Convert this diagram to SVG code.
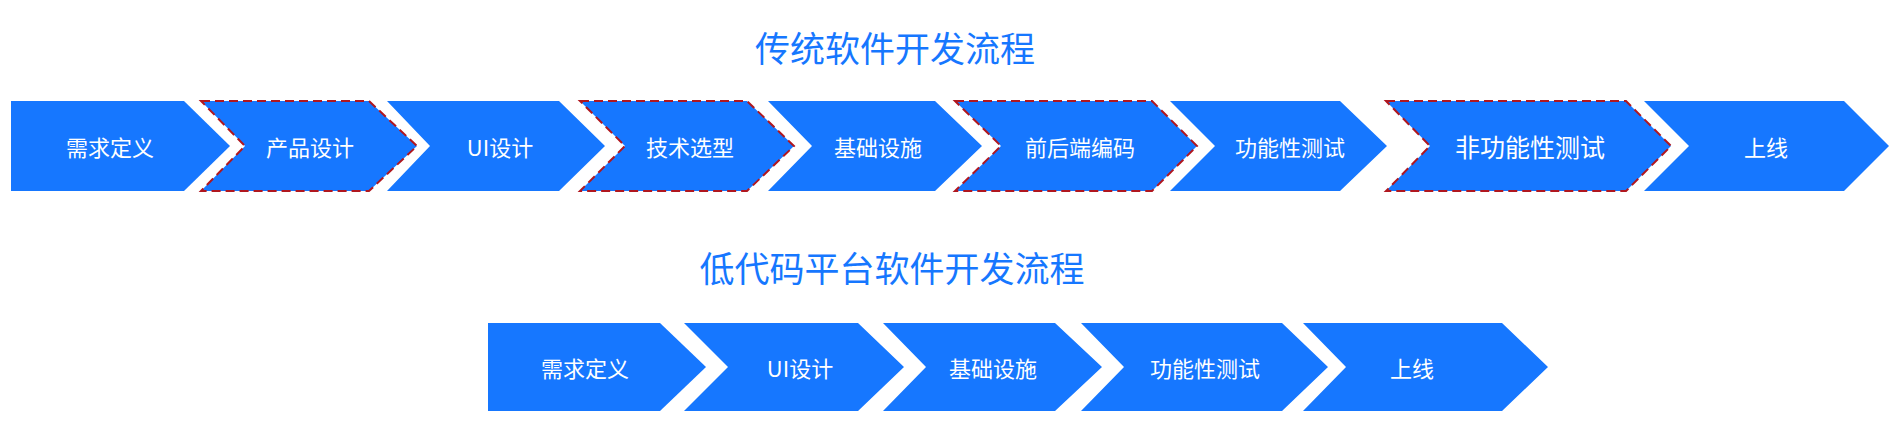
<svg xmlns="http://www.w3.org/2000/svg" width="1896" height="431" viewBox="0 0 1896 431">
<style>
.s{fill:#1677ff}
.d{stroke:#b0171f;stroke-width:2;stroke-dasharray:9 5}
.t{font-family:"Noto Sans CJK SC","Noto Sans",sans-serif;fill:#fff;font-size:22px;text-anchor:middle;dominant-baseline:central}
.h{font-family:"Noto Sans CJK SC","Noto Sans",sans-serif;fill:#1677ff;font-size:35px;text-anchor:middle;dominant-baseline:central}
</style>
<rect width="1896" height="431" fill="#fff"/>
<text class="h" x="895" y="46">传统软件开发流程</text>
<text class="h" x="892" y="266">低代码平台软件开发流程</text>
<g id="top">
<g id="n1"><path class="s" d="M11 101H184L230 146L184 191H11Z"/><text class="t" x="110" y="146">需求定义</text></g>
<g id="n2"><path class="s d" d="M201 101H369L417 146L369 191H201L245 146Z"/><text class="t" x="310" y="146">产品设计</text></g>
<g id="n3"><path class="s" d="M387 101H559L605 146L559 191H387L430 146Z"/><text class="t" x="500" y="146">UI设计</text></g>
<g id="n4"><path class="s d" d="M580 101H747L794 146L747 191H580L625 146Z"/><text class="t" x="690" y="146">技术选型</text></g>
<g id="n5"><path class="s" d="M768 101H935L982 146L935 191H768L812 146Z"/><text class="t" x="878" y="146">基础设施</text></g>
<g id="n6"><path class="s d" d="M955 101H1152L1197 146L1152 191H955L1001 146Z"/><text class="t" x="1080" y="146">前后端编码</text></g>
<g id="n7"><path class="s" d="M1170 101H1340L1387 146L1340 191H1170L1215 146Z"/><text class="t" x="1290" y="146">功能性测试</text></g>
<g id="n8"><path class="s d" d="M1386 101H1626L1671 146L1626 191H1386L1430 146Z"/><text class="t" x="1530" y="146" style="font-size:25px">非功能性测试</text></g>
<g id="n9"><path class="s" d="M1644 101H1844L1889 146L1844 191H1644L1689 146Z"/><text class="t" x="1766" y="146">上线</text></g>
</g>
<g id="bottom">
<g id="m1"><path class="s" d="M488 323H660L706 367L660 411H488Z"/><text class="t" x="585" y="367">需求定义</text></g>
<g id="m2"><path class="s" d="M684 323H858L904 367L858 411H684L728 367Z"/><text class="t" x="800" y="367">UI设计</text></g>
<g id="m3"><path class="s" d="M883 323H1055L1102 367L1055 411H883L926 367Z"/><text class="t" x="993" y="367">基础设施</text></g>
<g id="m4"><path class="s" d="M1081 323H1282L1328 367L1282 411H1081L1124 367Z"/><text class="t" x="1205" y="367">功能性测试</text></g>
<g id="m5"><path class="s" d="M1303 323H1502L1548 367L1502 411H1303L1346 367Z"/><text class="t" x="1412" y="367">上线</text></g>
</g>
<g id="connectors"/>
</svg>
